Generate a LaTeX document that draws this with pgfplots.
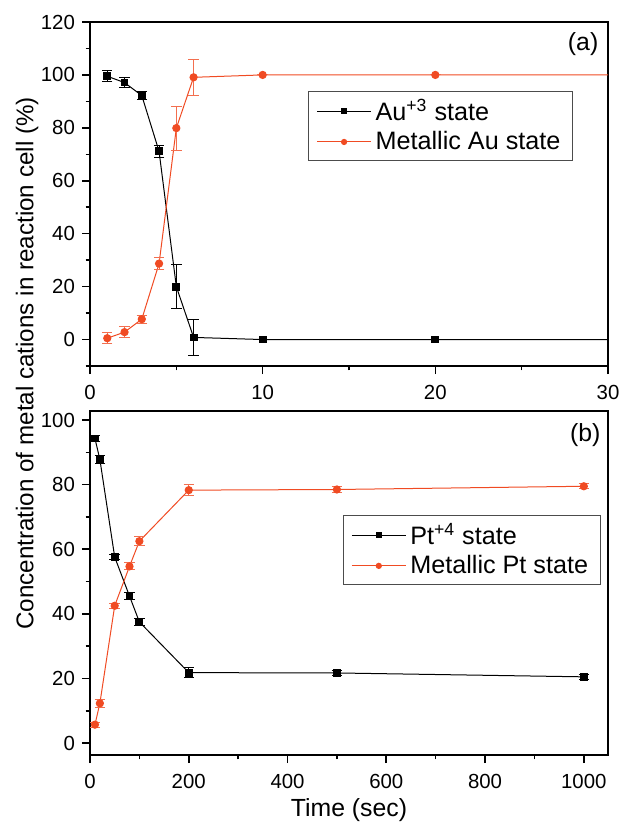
\documentclass[border=0pt]{standalone}
\usepackage{fontspec}
\setmainfont{Liberation Sans}
\usepackage{pgfplots}
\pgfplotsset{compat=1.18}
\definecolor{auorange}{HTML}{F04B23}

\begin{document}
\begin{tikzpicture}
\pgfplotsset{
  panel/.style={
    scale only axis, width=259pt, height=172pt,
    anchor=north west,
    axis line style={line width=1pt},
    tick pos=left, tick align=outside,
    major tick length=4pt, minor tick length=2.2pt,
    every tick/.style={black, line width=0.8pt},
    /pgf/number format/assume math mode=true,
    /pgf/number format/1000 sep={},
    tick label style={font=\fontsize{10.2}{12}\selectfont},
    xticklabel style={yshift=-2pt},
    legend cell align=left,
    legend style={draw=black!70, line width=0.5pt, anchor=north west,
      font=\fontsize{12.6}{15}\selectfont, inner xsep=4pt, inner ysep=2pt},
    legend image code/.code={
      \draw[mark repeat=2, mark phase=2, ##1, mark size=1.3pt]
        plot coordinates {(0pt,0pt) (13.5pt,0pt) (27pt,0pt)};},
  },
  blk/.style={black, line width=0.5pt, mark=square*, mark size=1.7pt,
    mark options={solid},
    error bars/.cd, y dir=both, y explicit,
    error bar style={line width=0.5pt, black},
    error mark options={rotate=90, mark size=2.6pt, line width=0.5pt}},
  org/.style={auorange, line width=0.5pt, mark=*, mark size=1.8pt,
    mark options={solid},
    error bars/.cd, y dir=both, y explicit,
    error bar style={line width=0.5pt, auorange!80},
    error mark options={rotate=90, mark size=2.6pt, line width=0.5pt}},
}
\useasboundingbox (0,0) rectangle (310pt,-412pt);

% panel (a): Au
\begin{axis}[panel, at={(45pt,-11pt)},
  xmin=0, xmax=30, ymin=-10, ymax=120,
  xtick={0,10,20,30}, minor xtick={5,15,25},
  ytick={0,20,...,120}, minor ytick={-10,10,...,110},
  legend style={at={(0.421,0.8)}}]
\addplot+[blk] coordinates {
  (1,99.5) +- (0,2.0)
  (2,97.1) +- (0,2.0)
  (3,92.2) +- (0,1.6)
  (4,71.1) +- (0,2.3)
  (5,20.0) +- (0,8.4)
  (6,0.8) +- (0,6.9)
  (10,0) +- (0,0)
  (20,0) +- (0,0)
  (40,0) +- (0,0)
};
\addlegendentry{Au\textsuperscript{+3} state}
\addplot+[org] coordinates {
  (1,0.5) +- (0,2.1)
  (2,2.8) +- (0,2.1)
  (3,7.7) +- (0,1.5)
  (4,28.7) +- (0,2.4)
  (5,79.9) +- (0,8.3)
  (6,99.1) +- (0,6.8)
  (10,100) +- (0,0)
  (20,100) +- (0,0)
  (40,100) +- (0,0)
};
\addlegendentry{Metallic Au state}
\node[font=\fontsize{12.4}{15}\selectfont] at (rel axis cs:0.952,0.936) {(a)};
\end{axis}

% panel (b): Pt
\begin{axis}[panel, at={(45pt,-205.5pt)},
  xmin=0, xmax=1049, ymin=-3.7, ymax=102.8,
  xtick={0,200,...,1000}, minor xtick={100,300,...,900},
  ytick={0,20,...,100}, minor ytick={10,30,...,90},
  legend style={at={(0.488,0.698)}}]
\addplot+[blk] coordinates {
  (10,94.3) +- (0,0.8)
  (20,87.8) +- (0,1.2)
  (50,57.6) +- (0,0.8)
  (80,45.5) +- (0,1.2)
  (100,37.5) +- (0,1.2)
  (200,21.8) +- (0,1.5)
  (500,21.7) +- (0,0.9)
  (1000,20.5) +- (0,0.8)
};
\addlegendentry{Pt\textsuperscript{+4} state}
\addplot+[org] coordinates {
  (10,5.7) +- (0,0.8)
  (20,12.3) +- (0,1.2)
  (50,42.5) +- (0,0.7)
  (80,54.7) +- (0,1.1)
  (100,62.5) +- (0,1.3)
  (200,78.3) +- (0,1.6)
  (500,78.5) +- (0,0.8)
  (1000,79.5) +- (0,0.8)
};
\addlegendentry{Metallic Pt state}
\node[font=\fontsize{12.4}{15}\selectfont] at (rel axis cs:0.956,0.93) {(b)};
\end{axis}

\node[rotate=90, font=\fontsize{12.1}{15}\selectfont] at (13.5pt,-181.75pt)
  {Concentration of metal cations in reaction cell (\%)};
\node[font=\fontsize{12.4}{15}\selectfont] at (174.5pt,-405pt) {Time (sec)};
\end{tikzpicture}
\end{document}
